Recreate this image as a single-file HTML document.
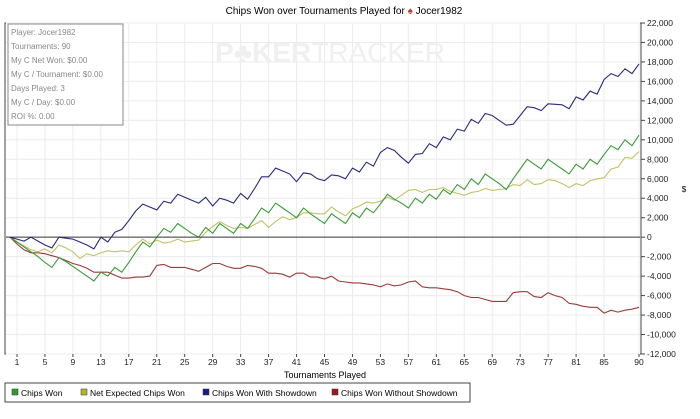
<!DOCTYPE html>
<html><head><meta charset="utf-8"><style>
body{margin:0;background:#fff;font-family:"Liberation Sans",sans-serif;}
svg text{font-family:"Liberation Sans",sans-serif;}
</style></head><body>
<svg id="chart" width="700" height="414" xmlns="http://www.w3.org/2000/svg">
<text x="344" y="14" font-size="10" text-anchor="middle" fill="#000">Chips Won over Tournaments Played for <tspan fill="#c0392b">♠</tspan> Jocer1982</text>
<rect x="5" y="23" width="636" height="331" fill="#fff" stroke="#444" stroke-width="1"/>
<g id="grid"></g>
<text x="330" y="62" font-size="28" font-weight="bold" text-anchor="middle" fill="#f0f0f0">P♣KER<tspan font-weight="normal">TRACKER</tspan></text>
<g id="series"></g>
<g id="axes"></g>
<g>
<rect x="8" y="24" width="115" height="101" fill="#fff" stroke="#888"/>
<text font-size="8" fill="#888">
<tspan x="11" y="35">Player: Jocer1982</tspan>
<tspan x="11" y="49">Tournaments: 90</tspan>
<tspan x="11" y="63">My C Net Won: $0.00</tspan>
<tspan x="11" y="77">My C / Tournament: $0.00</tspan>
<tspan x="11" y="91">Days Played: 3</tspan>
<tspan x="11" y="105">My C / Day: $0.00</tspan>
<tspan x="11" y="119">ROI %: 0.00</tspan>
</text></g>
<text x="325" y="378" font-size="9" text-anchor="middle">Tournaments Played</text>
<text x="684" y="192" font-size="8" text-anchor="middle">$</text>
<g>
<rect x="5" y="383" width="465" height="19" fill="#fff" stroke="#444"/>
<g><rect x="12" y="389" width="6" height="6" fill="#2e9b2e" stroke="#333" stroke-width="0.5"/><text x="21" y="396" font-size="8.5">Chips Won</text></g>
<g><rect x="81" y="389" width="6" height="6" fill="#b5b52e" stroke="#333" stroke-width="0.5"/><text x="90" y="396" font-size="8.5">Net Expected Chips Won</text></g>
<g><rect x="203" y="389" width="6" height="6" fill="#1a1a8c" stroke="#333" stroke-width="0.5"/><text x="212" y="396" font-size="8.5">Chips Won With Showdown</text></g>
<g><rect x="332" y="389" width="6" height="6" fill="#9b1a1a" stroke="#333" stroke-width="0.5"/><text x="341" y="396" font-size="8.5">Chips Won Without Showdown</text></g>
</g>
</svg>
<script>
const yTicks=[22000,20000,18000,16000,14000,12000,10000,8000,6000,4000,2000,0,-2000,-4000,-6000,-8000,-10000,-12000];
const xTicks=[1,5,9,13,17,21,25,29,33,37,41,45,49,53,57,61,65,69,73,77,81,85,90];
const chipsWon=[0,-500,-1000,-1500,-2000,-2600,-3100,-2100,-2500,-3000,-3500,-4000,-4500,-3600,-4000,-3100,-3600,-2600,-1500,-500,-1000,0,900,500,1400,900,400,0,1000,400,1400,900,400,1400,900,1900,3000,2500,3500,3000,2500,2000,3000,2400,1900,1400,2400,1900,1400,2500,2000,3000,2500,3400,4400,3900,3500,3000,4000,3500,4400,3900,4900,4400,5400,4900,6000,5400,6500,6000,5500,4900,6000,7000,8000,7500,7000,8000,7500,7000,6500,7500,7000,8000,7500,8500,9400,9000,10000,9400,10500];
const netExpected=[0,-500,-900,-1300,-1500,-1200,-1600,-800,-1100,-1500,-2200,-1700,-1900,-1600,-1400,-1500,-1400,-1500,-800,-200,-700,-300,-600,-500,-200,-500,-400,-300,500,1100,1600,1200,900,1000,900,1300,1700,1000,1600,2100,1800,2000,2500,2500,2400,2400,3100,2600,2200,2900,3200,3600,3500,3700,4100,3800,4300,4800,4900,4600,4900,4900,5100,4700,4500,4300,4600,4700,5000,4800,4900,5000,5400,5300,5900,5400,5500,5900,5800,5500,5100,5500,5300,5800,6000,6100,7000,7200,8200,8100,8800];
const withShowdown=[0,-200,-400,0,-400,-800,-1100,0,-100,-200,-500,-800,-1200,0,-500,500,800,1700,2700,3400,3100,2800,3700,3500,4400,4100,3800,3500,4100,3200,4000,3800,3500,4500,3900,5000,6200,6200,7100,6800,6500,5700,6600,6500,6000,5800,6400,6300,6000,7100,6700,7700,7300,8700,9200,8900,8200,7600,8500,8600,9600,9200,10300,10000,11100,10900,12100,11700,12700,12500,12000,11500,11600,12500,13400,13300,13000,13700,13650,13600,13200,14400,14100,15000,14700,16200,16800,16500,17300,16800,17800];
const withoutShowdown=[0,-700,-1300,-1600,-1600,-1700,-1900,-2100,-2400,-2700,-2900,-3200,-3600,-3600,-3600,-3900,-4200,-4200,-4100,-4100,-4000,-2900,-2800,-3100,-3100,-3100,-3300,-3500,-3100,-2700,-2700,-3000,-3200,-3200,-2900,-3000,-3200,-3700,-3700,-3800,-4100,-3700,-3700,-4100,-4100,-4300,-4000,-4500,-4600,-4700,-4700,-4800,-4900,-5100,-4800,-5000,-4900,-4600,-4500,-5100,-5200,-5200,-5300,-5400,-5600,-6000,-6200,-6200,-6400,-6600,-6600,-6600,-5700,-5600,-5600,-6100,-6200,-5700,-6000,-6200,-6800,-6900,-7100,-7200,-7200,-7800,-7500,-7700,-7500,-7400,-7200];
const NS="http://www.w3.org/2000/svg";
const X0=10,X1=639,Y0=23,Y1=354,YMAX=22000,YMIN=-12000;
function xs(i,n){return X0+(X1-X0)*i/(n-1);}
function xt(t){return X0+(X1-X0)*t/90;}
function ys(v){return Y0+(YMAX-v)/(YMAX-YMIN)*(Y1-Y0);}
function mk(tag,attrs,parent){const e=document.createElementNS(NS,tag);for(const k in attrs)e.setAttribute(k,attrs[k]);parent.appendChild(e);return e;}
const grid=document.getElementById('grid'),axes=document.getElementById('axes'),ser=document.getElementById('series');
yTicks.forEach(v=>{
  const g=mk('line',{x1:6,x2:640,y1:ys(v),y2:ys(v),stroke:v===0?'#333':'#ececec','stroke-width':1},v===0?axes:grid);
  
  
  const tk=mk('line',{x1:641,x2:645,y1:ys(v),y2:ys(v),stroke:'#444'},axes);
  
  
  const t=mk('text',{x:647,y:ys(v)+3,'font-size':8.5,fill:'#222'},axes);
  t.textContent=v.toLocaleString('en-US');
  
  
});
xTicks.forEach(tv=>{
  const x=xt(tv);
  const g=mk('line',{x1:x,x2:x,y1:24,y2:353,stroke:'#ececec'},grid);
  
  
  const tk=mk('line',{x1:x,x2:x,y1:354,y2:357,stroke:'#444'},axes);
  
  
  const t=mk('text',{x:x,y:365,'font-size':8.5,'text-anchor':'middle',fill:'#222'},axes);
  t.textContent=tv;
  
  
});
const ra=mk('line',{x1:641,x2:641,y1:23,y2:354,stroke:'#444'},axes);


function draw(arr,color,name){
  const pts=arr.map((v,i)=>xs(i,arr.length).toFixed(1)+','+ys(v).toFixed(1)).join(' ');
  const p=mk('polyline',{points:pts,fill:'none',stroke:color,'stroke-width':1.1},ser);
  
  
}
draw(withoutShowdown,'#9b3a3a','series-chips-won-without-showdown');
draw(netExpected,'#c2c26a','series-net-expected-chips-won');
draw(chipsWon,'#3a9b3a','series-chips-won');
draw(withShowdown,'#2a2a80','series-chips-won-with-showdown');
</script>
</body></html>
